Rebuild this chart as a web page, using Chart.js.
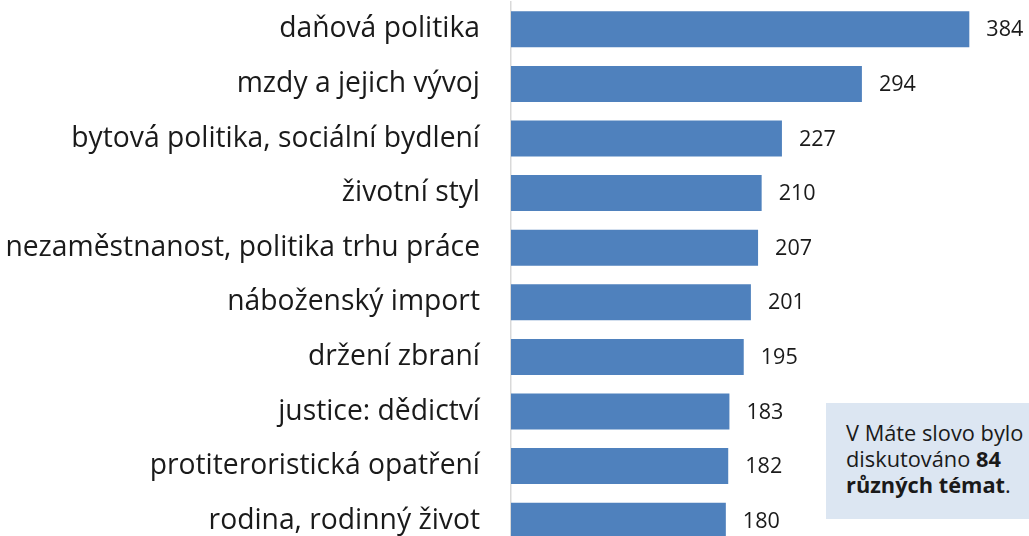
<!DOCTYPE html>
<html><head><meta charset="utf-8">
<script src="https://cdn.jsdelivr.net/npm/chart.js@4/dist/chart.umd.min.js"></script>
<style>
html,body{margin:0;padding:0;width:1029px;height:536px;overflow:hidden;background:#fff;}
#wrap{position:absolute;left:0;top:0;width:1029px;height:560px;}
#c{display:block;width:1029px;height:560px;}
#note{position:absolute;left:826px;top:403px;width:230px;height:116px;background:#dce6f2;
 font-family:"Open Sans",sans-serif;font-size:21px;line-height:26px;color:#1a1a1a;padding:17px 0 0 20px;box-sizing:border-box;white-space:nowrap;}
</style></head><body>
<div id="wrap"><canvas id="c" width="1029" height="560"></canvas></div>
<div id="note">V Máte slovo bylo<br>diskutováno <b>84</b><br><b>různých témat</b>.</div>
<script>
const categories = ["daňová politika","mzdy a jejich vývoj","bytová politika, sociální bydlení","životní styl","nezaměstnanost, politika trhu práce","náboženský import","držení zbraní","justice: dědictví","protiteroristická opatření","rodina, rodinný život"];
const values = [384,294,227,210,207,201,195,183,182,180];

const FONT = '"Open Sans", sans-serif';
// fit font sizes to the reference text widths
const mc = document.createElement('canvas').getContext('2d');
function fitSize(text, target, weight){
  mc.font = (weight||'') + ' 100px ' + FONT;
  return 100 * target / mc.measureText(text).width;
}
const catSize = fitSize("nezaměstnanost, politika trhu práce", 475);
const valSize = fitSize("384", 37);
const noteSize = fitSize("diskutováno ", 130) ;
document.getElementById('note').style.fontSize = noteSize.toFixed(2) + 'px';

const valueLabels = {
  id:'valueLabels',
  afterDatasetsDraw(chart){
    const ctx = chart.ctx;
    const meta = chart.getDatasetMeta(0);
    ctx.save();
    ctx.font = valSize.toFixed(2) + 'px ' + FONT;
    ctx.fillStyle = '#1a1a1a';
    ctx.textBaseline = 'middle';
    ctx.textAlign = 'left';
    meta.data.forEach((bar,i)=>{
      ctx.fillText(String(values[i]), bar.x + 17, bar.y + 1);
    });
    ctx.restore();
  }
};

new Chart(document.getElementById('c'), {
  type:'bar',
  data:{labels:categories, datasets:[{data:values, backgroundColor:'#4f81bd', borderWidth:0, categoryPercentage:0.66, barPercentage:1}]},
  options:{
    indexAxis:'y', responsive:false, maintainAspectRatio:false, animation:false,
    layout:{padding:{top:2,bottom:12,left:0,right:0}},
    plugins:{legend:{display:false}, tooltip:{enabled:false}},
    scales:{
      x:{display:false, min:0, max:434},
      y:{
        afterFit(s){ s.width = 511; s.paddingTop = 0; s.paddingBottom = 0; },
        grid:{display:false, drawTicks:false},
        border:{display:true, color:'#d9d9d9', width:1.5},
        ticks:{color:'#1a1a1a', padding:31, font:{family:FONT, size:catSize}}
      }
    }
  },
  plugins:[valueLabels]
});
</script>
</body></html>
